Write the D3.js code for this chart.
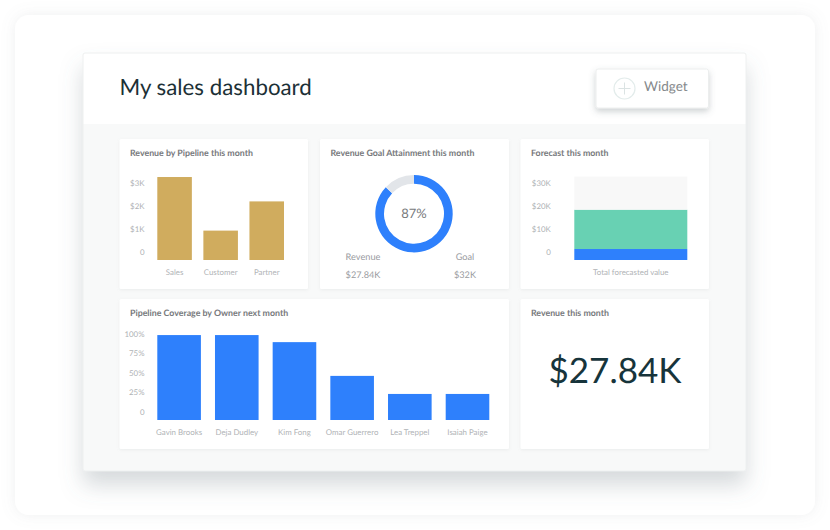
<!DOCTYPE html>
<html>
<head>
<meta charset="utf-8">
<script src="https://cdnjs.cloudflare.com/ajax/libs/d3/7.8.5/d3.min.js"></script>
<style>
  html, body { margin: 0; padding: 0; background: #fff; }
  svg { display: block; }
  text { font-family: Lato, "Open Sans", sans-serif; text-rendering: geometricPrecision; }
  .card-title { font-size: 8.8px; font-weight: 700; fill: #77797c; }
  .axis text { font-size: 7.9px; fill: #b0b3b6; }
  .axis path, .axis line { display: none; }
  .label { font-size: 9.2px; fill: #9a9c9f; text-anchor: middle; }
</style>
</head>
<body>
<div id="chart"></div>
<script>
// Chart values
const pipelineNames = ["Sales", "Customer", "Partner"];
const pipelineValues = [3.26, 0.93, 2.2];
const pipelineTicks = [0, 1, 2, 3];

const goalShare = [87, 13];
const goalLabels = ["Revenue", "Goal"];
const goalAmounts = ["$27.84K", "$32K"];

const forecastLayers = ["closed", "forecast", "remaining"];
const forecastValues = [1.3, 17.1, 14.4];
const forecastColors = ["#2e80fc", "#68d1b3", "#f8f8f8"];
const forecastTicks = [0, 10, 20, 30];

const ownerNames = ["Gavin Brooks", "Deja Dudley", "Kim Fong", "Omar Guerrero", "Lea Treppel", "Isaiah Paige"];
const ownerValues = [98, 98, 89, 46, 23, 23];
const ownerTicks = [0, 25, 50, 75, 100];

const cards = [
  { x: 119.5, y: 139, w: 188.5, h: 150, title: "Revenue by Pipeline this month" },
  { x: 320, y: 139, w: 189, h: 150, title: "Revenue Goal Attainment this month" },
  { x: 520.5, y: 139, w: 188.5, h: 150, title: "Forecast this month" },
  { x: 119.5, y: 299, w: 389.5, h: 150, title: "Pipeline Coverage by Owner next month" },
  { x: 520.5, y: 299, w: 188.5, h: 150, title: "Revenue this month" }
];

const blue = "#2e80fc";
const gold = "#d0ac5e";

const svg = d3.select("#chart").append("svg")
  .attr("width", 830)
  .attr("height", 530);

// Shadows
const defs = svg.append("defs");
function shadow(id, dy, blur, color, opacity) {
  defs.append("filter")
    .attr("id", id)
    .attr("x", "-20%").attr("y", "-20%")
    .attr("width", "140%").attr("height", "150%")
    .append("feDropShadow")
    .attr("dx", 0).attr("dy", dy)
    .attr("stdDeviation", blur)
    .attr("flood-color", color)
    .attr("flood-opacity", opacity);
}
shadow("outerShadow", 0, 7, "#8a9296", 0.14);
shadow("dashShadow", 14, 11, "#68767c", 0.27);
shadow("cardShadow", 1, 1.5, "#8a9296", 0.12);
shadow("buttonShadow", 3, 3, "#5d686d", 0.3);

// Frames
svg.append("rect")
  .attr("x", 15).attr("y", 15)
  .attr("width", 800).attr("height", 500)
  .attr("rx", 14)
  .attr("fill", "#fff")
  .attr("filter", "url(#outerShadow)");

svg.append("rect")
  .attr("x", 83).attr("y", 53)
  .attr("width", 663).attr("height", 418)
  .attr("rx", 2)
  .attr("fill", "#f8f9f9")
  .attr("filter", "url(#dashShadow)");

svg.append("rect")
  .attr("x", 83).attr("y", 53)
  .attr("width", 663).attr("height", 71)
  .attr("fill", "#fff");

// Thin edge around the dashboard
svg.append("rect")
  .attr("x", 83).attr("y", 53)
  .attr("width", 663).attr("height", 418)
  .attr("rx", 2)
  .attr("fill", "none")
  .attr("stroke", "#eef0f0")
  .attr("stroke-width", 1);

// Header
svg.append("text")
  .attr("x", 119.5).attr("y", 95)
  .attr("font-size", 22.3)
  .attr("fill", "#1c3036")
  .text("My sales dashboard");

svg.append("rect")
  .attr("x", 596).attr("y", 69)
  .attr("width", 112.5).attr("height", 39)
  .attr("rx", 2)
  .attr("fill", "#fff")
  .attr("stroke", "#eceeee")
  .attr("filter", "url(#buttonShadow)");

svg.append("circle")
  .attr("cx", 624.5).attr("cy", 88.5)
  .attr("r", 10.5)
  .attr("fill", "none")
  .attr("stroke", "#e3eceb")
  .attr("stroke-width", 1.2);

svg.append("path")
  .attr("d", "M618.5,88.5H630.5M624.5,82.5V94.5")
  .attr("stroke", "#dbe3e3")
  .attr("stroke-width", 1);

svg.append("text")
  .attr("x", 644).attr("y", 91)
  .attr("font-size", 13.5)
  .attr("fill", "#85898b")
  .text("Widget");

// Cards
cards.forEach(c => {
  svg.append("rect")
    .attr("x", c.x).attr("y", c.y)
    .attr("width", c.w).attr("height", c.h)
    .attr("rx", 1.5)
    .attr("fill", "#fff")
    .attr("filter", "url(#cardShadow)");
  svg.append("text")
    .attr("class", "card-title")
    .attr("x", c.x + 10.5).attr("y", c.y + 17)
    .text(c.title);
});

// Bars start a little below the zero tick, as in the reference
const floorDrop = 8;
const labelDrop = 9;

function yAxis(axisX, scale, ticks, format) {
  svg.append("g")
    .attr("class", "axis")
    .attr("transform", `translate(${axisX},0)`)
    .call(d3.axisLeft(scale).tickValues(ticks).tickSize(0).tickPadding(0).tickFormat(format));
}

function barChart(names, values, ticks, format, yScale, xRange, inner, color, axisX) {
  const x = d3.scaleBand().domain(names).range(xRange).paddingInner(inner);
  const floor = yScale(0) + floorDrop;

  yAxis(axisX, yScale, ticks, format);

  svg.append("g").selectAll("rect")
    .data(values)
    .enter()
    .append("rect")
    .attr("x", (d, i) => x(names[i]))
    .attr("y", d => yScale(d))
    .attr("width", x.bandwidth())
    .attr("height", d => floor - yScale(d))
    .attr("fill", color);

  svg.append("g")
    .attr("class", "axis")
    .attr("transform", `translate(0,${floor + labelDrop})`)
    .call(d3.axisBottom(x).tickSize(0).tickPadding(0));
}

// Revenue by pipeline
const yPipeline = d3.scaleLinear().domain([0, 3]).range([252, 183]);
barChart(pipelineNames, pipelineValues, pipelineTicks,
  d => d === 0 ? "0" : `$${d}K`, yPipeline, [157.3, 284], 0.25, gold, 144.5);

// Goal attainment donut
const donut = svg.append("g").attr("transform", "translate(414,213.7)");
const arc = d3.arc().innerRadius(30).outerRadius(38.7);
const pie = d3.pie().sort(null);
donut.selectAll("path")
  .data(pie(goalShare))
  .enter()
  .append("path")
  .attr("d", arc)
  .attr("fill", (d, i) => i === 0 ? blue : "#e2e5e9");

donut.append("text")
  .attr("text-anchor", "middle")
  .attr("y", 4.5)
  .attr("font-size", 13)
  .attr("fill", "#77797c")
  .text(`${goalShare[0]}%`);

const goalX = d3.scalePoint().domain(goalLabels).range([363, 465]);
goalLabels.forEach((name, i) => {
  svg.append("text").attr("class", "label")
    .attr("x", goalX(name)).attr("y", 260)
    .text(name);
  svg.append("text").attr("class", "label")
    .attr("x", goalX(name)).attr("y", 278)
    .text(goalAmounts[i]);
});

// Forecast stack
const yForecast = d3.scaleLinear().domain([0, 30]).range([252, 183]);
const xForecast = d3.scaleBand().domain(["Total forecasted value"]).range([574.3, 687.3]);
yAxis(550.8, yForecast, forecastTicks, d => d === 0 ? "0" : `$${d}K`);

const forecastFloor = yForecast(0) + floorDrop;
const stackRow = {};
forecastLayers.forEach((k, i) => { stackRow[k] = forecastValues[i]; });
const layers = d3.stack().keys(forecastLayers)([stackRow]);
svg.append("g").selectAll("rect")
  .data(layers)
  .enter()
  .append("rect")
  .attr("x", xForecast("Total forecasted value"))
  .attr("width", xForecast.bandwidth())
  .attr("y", d => yForecast(d[0][1]))
  .attr("height", (d, i) => (i === 0 ? forecastFloor : yForecast(d[0][0])) - yForecast(d[0][1]))
  .attr("fill", (d, i) => forecastColors[i]);

svg.append("g")
  .attr("class", "axis")
  .attr("transform", `translate(0,${forecastFloor + labelDrop})`)
  .call(d3.axisBottom(xForecast).tickSize(0).tickPadding(0));

// Pipeline coverage by owner
const yOwner = d3.scaleLinear().domain([0, 100]).range([412, 333.5]);
barChart(ownerNames, ownerValues, ownerTicks,
  d => d === 0 ? "0" : `${d}%`, yOwner, [157.3, 489.3], 0.244, blue, 144.5);

// Revenue number
svg.append("text")
  .attr("x", 615).attr("y", 383)
  .attr("text-anchor", "middle")
  .attr("font-size", 35)
  .attr("fill", "#17343b")
  .text(goalAmounts[0]);
</script>
</body>
</html>
